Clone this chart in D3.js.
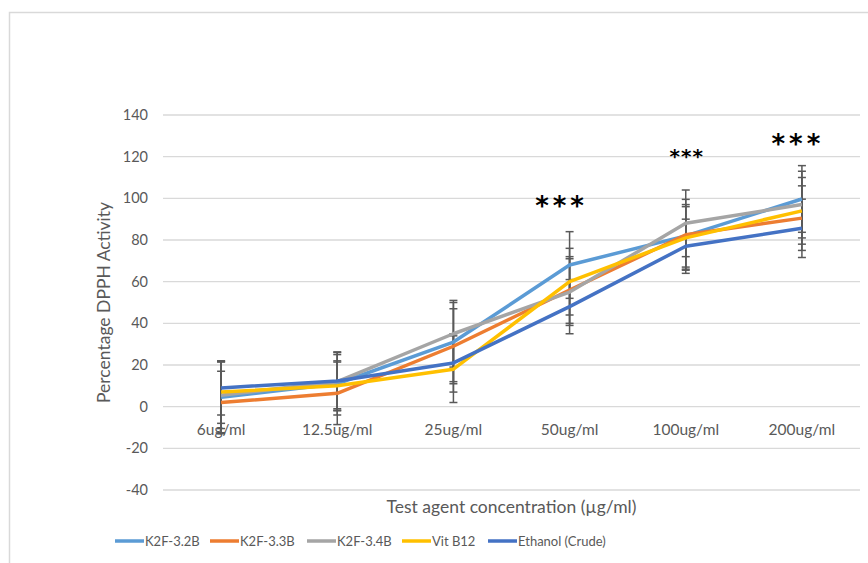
<!DOCTYPE html>
<html>
<head>
<meta charset="utf-8">
<script src="https://cdn.jsdelivr.net/npm/d3@7"></script>
<style>
  body { margin: 0; background: #fff; }
  svg { display: block; }
</style>
</head>
<body>
<svg id="chart" width="868" height="563"></svg>
<script>
// categories and values
var categories = ["6ug/ml", "12.5ug/ml", "25ug/ml", "50ug/ml", "100ug/ml", "200ug/ml"];
var seriesNames = ["K2F-3.2B", "K2F-3.3B", "K2F-3.4B", "Vit B12", "Ethanol (Crude)"];
var seriesColors = ["#5B9BD5", "#ED7D31", "#A5A5A5", "#FFC000", "#4472C4"];

var k2f32b = [4.5, 11, 31, 68, 82, 99.7];
var k2f33b = [2, 6.4, 29, 56, 82.5, 90.5];
var k2f34b = [5.5, 12, 35, 55, 88, 97];
var vitB12 = [7, 10, 18, 60, 81, 94];
var ethanol = [9, 12.3, 21, 48, 77, 85.6];

// error bar half-widths
var err32b = [17, 15, 19, 16, 15, 16];
var err33b = [15, 15, 18, 16, 17, 15.5];
var err34b = [16, 13, 16, 16, 16, 16];
var errB12 = [15, 12, 16, 16, 15, 16];
var errEth = [13, 14, 14, 13, 13, 14];

var yTicks = [-40, -20, 0, 20, 40, 60, 80, 100, 120, 140];
var stars = [null, null, null, "***", "***", "***"];

var values = [k2f32b, k2f33b, k2f34b, vitB12, ethanol];
var errors = [err32b, err33b, err34b, errB12, errEth];

var svg = d3.select("#chart");
var font = "Lato, 'Liberation Sans', sans-serif";

// outer frame
svg.append("rect")
  .attr("x", 9.5).attr("y", 12.5)
  .attr("width", 870).attr("height", 560)
  .attr("fill", "none")
  .attr("stroke", "#d9d9d9")
  .attr("stroke-width", 1.5);

var left = 163, right = 860;
var xScale = d3.scaleBand().domain(categories).range([left, right]);
var yScale = d3.scaleLinear().domain([-40, 140]).range([490, 115]);

// gridlines
svg.append("g")
  .selectAll("line")
  .data(yTicks)
  .enter()
  .append("line")
  .attr("x1", left).attr("x2", right)
  .attr("y1", function (d) { return yScale(d); })
  .attr("y2", function (d) { return yScale(d); })
  .attr("stroke", "#d9d9d9")
  .attr("stroke-width", 1.3);

// y axis labels (plain hyphen for negatives, like the original)
var yAxis = d3.axisLeft(yScale)
  .tickValues(yTicks)
  .tickFormat(function (d) { return String(d); })
  .tickSize(0)
  .tickPadding(15);
var yg = svg.append("g")
  .attr("transform", "translate(" + left + ",0)")
  .call(yAxis);
yg.select(".domain").remove();
yg.selectAll("text")
  .attr("font-family", font)
  .attr("font-size", 14.5)
  .attr("fill", "#595959");

// category labels sit just under the zero line
var xAxis = d3.axisBottom(xScale).tickSize(0).tickPadding(17);
var xg = svg.append("g")
  .attr("transform", "translate(0," + yScale(0) + ")")
  .call(xAxis);
xg.select(".domain").remove();
xg.selectAll("text")
  .attr("font-family", font)
  .attr("font-size", 15.5)
  .attr("fill", "#595959");

function cx(i) {
  return xScale(categories[i]) + xScale.bandwidth() / 2;
}

// error bars
values.forEach(function (vals, s) {
  var g = svg.append("g");
  vals.forEach(function (v, i) {
    var e = errors[s][i];
    var x = cx(i);
    g.append("line")
      .attr("x1", x).attr("x2", x)
      .attr("y1", yScale(v - e)).attr("y2", yScale(v + e))
      .attr("stroke", "#595959").attr("stroke-width", 1.5);
    [v - e, v + e].forEach(function (w) {
      g.append("line")
        .attr("x1", x - 4).attr("x2", x + 4)
        .attr("y1", yScale(w)).attr("y2", yScale(w))
        .attr("stroke", "#595959").attr("stroke-width", 1.5);
    });
  });
});

// series lines
var line = d3.line()
  .x(function (d, i) { return cx(i); })
  .y(function (d) { return yScale(d); });

values.forEach(function (vals, s) {
  svg.append("path")
    .datum(vals)
    .attr("fill", "none")
    .attr("stroke", seriesColors[s])
    .attr("stroke-width", 3.5)
    .attr("stroke-linejoin", "round")
    .attr("d", line);
});

// significance stars
var starPos = [null, null, null, 92, 117, 122];
var starSize = [0, 0, 0, 26, 20, 26];
var starShift = [0, 0, 0, -8, 1, -4];
stars.forEach(function (t, i) {
  if (!t) return;
  svg.append("text")
    .attr("x", cx(i) + starShift[i])
    .attr("y", yScale(starPos[i]))
    .attr("text-anchor", "middle")
    .attr("font-family", "'DejaVu Sans', sans-serif")
    .attr("font-weight", "bold")
    .attr("font-size", starSize[i])
    .attr("letter-spacing", i == 4 ? 1 : 4)
    .attr("fill", "#000")
    .text(t);
});

// axis titles
svg.append("text")
  .attr("transform", "translate(110," + (yScale(-40) + yScale(140)) / 2 + ") rotate(-90)")
  .attr("text-anchor", "middle")
  .attr("font-family", font)
  .attr("font-size", 17.5)
  .attr("fill", "#595959")
  .text("Percentage DPPH Activity");

svg.append("text")
  .attr("x", (left + right) / 2)
  .attr("y", 513)
  .attr("text-anchor", "middle")
  .attr("font-family", font)
  .attr("font-size", 17.5)
  .attr("fill", "#595959")
  .text("Test agent concentration (\u00b5g/ml)");

// legend
var legendX = [115, 210, 307, 402, 488];
var leg = svg.append("g");
seriesNames.forEach(function (name, s) {
  leg.append("line")
    .attr("x1", legendX[s]).attr("x2", legendX[s] + 29)
    .attr("y1", 541).attr("y2", 541)
    .attr("stroke", seriesColors[s])
    .attr("stroke-width", 3.5);
  leg.append("text")
    .attr("x", legendX[s] + 30)
    .attr("y", 546)
    .attr("font-family", font)
    .attr("font-size", 13)
    .attr("fill", "#595959")
    .text(name);
});
</script>
</body>
</html>
